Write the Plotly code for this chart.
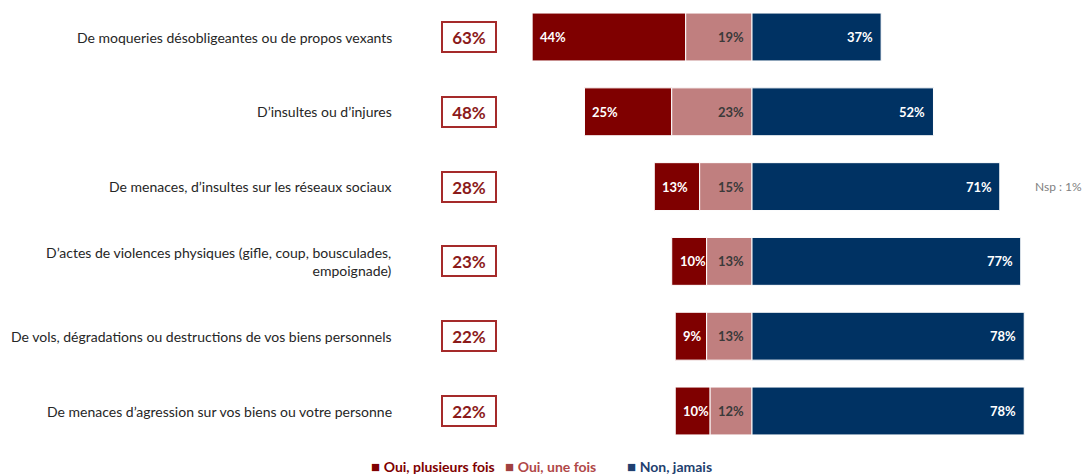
import plotly.graph_objects as go

categories = [
    "De moqueries désobligeantes ou de propos vexants",
    "D’insultes ou d’injures",
    "De menaces, d’insultes sur les réseaux sociaux",
    "D’actes de violences physiques (gifle, coup, bousculades,<br>empoignade)",
    "De vols, dégradations ou destructions de vos biens personnels",
    "De menaces d’agression sur vos biens ou votre personne",
]
oui_plusieurs = [44, 25, 13, 10, 9, 10]
oui_une = [19, 23, 15, 13, 13, 12]
non_jamais = [37, 52, 71, 77, 78, 78]
series_names = ["Oui, plusieurs fois", "Oui, une fois", "Non, jamais"]
nsp_note = "Nsp : 1%"
nsp_row = 2

C_DARK = "#7F0000"
C_LIGHT = "#C07F7F"
C_BLUE = "#003263"
FONT = "Lato, Open Sans, sans-serif"

ypos = list(range(len(categories)))
fig = go.Figure()

bw = 0.64
fig.add_trace(go.Bar(
    y=ypos, x=oui_plusieurs, base=[-(a + b) for a, b in zip(oui_plusieurs, oui_une)],
    orientation="h", width=bw, marker=dict(color=C_DARK, line=dict(color="white", width=1)),
    name=series_names[0], hoverinfo="skip", showlegend=False))
fig.add_trace(go.Bar(
    y=ypos, x=oui_une, base=[-b for b in oui_une],
    orientation="h", width=bw, marker=dict(color=C_LIGHT, line=dict(color="white", width=1)),
    name=series_names[1], hoverinfo="skip", showlegend=False))
fig.add_trace(go.Bar(
    y=ypos, x=non_jamais, base=[0] * len(non_jamais),
    orientation="h", width=bw, marker=dict(color=C_BLUE, line=dict(color="white", width=1)),
    name=series_names[2], hoverinfo="skip", showlegend=False))

ann = []
for i, (a, b, c, cat) in enumerate(zip(oui_plusieurs, oui_une, non_jamais, categories)):
    ann.append(dict(x=-(a + b), y=i, text=f"<b>{a}%</b>", xanchor="left", xshift=6,
                    showarrow=False, font=dict(family=FONT, size=13, color="white")))
    ann.append(dict(x=0, y=i, text=f"<b>{b}%</b>", xanchor="right", xshift=-6,
                    showarrow=False, font=dict(family=FONT, size=13, color="#3a3a3a")))
    ann.append(dict(x=c, y=i, text=f"<b>{c}%</b>", xanchor="right", xshift=-6,
                    showarrow=False, font=dict(family=FONT, size=13, color="white")))
    # category label
    ann.append(dict(x=394 / 1090, xref="paper", y=i, text=cat, xanchor="right", align="right",
                    showarrow=False, font=dict(family=FONT, size=14, color="#262626")))
    # total box
    ann.append(dict(x=469 / 1090, xref="paper", y=i, text=f"<b>{a + b}%</b>", xanchor="center",
                    showarrow=False, width=50, height=26, bordercolor="#A52A2A", borderwidth=2,
                    bgcolor="white", font=dict(family=FONT, size=17, color="#8B1A1A")))

ann.append(dict(x=1058 / 1090, xref="paper", y=nsp_row, text=nsp_note, xanchor="center",
                showarrow=False, font=dict(family=FONT, size=12, color="#808080")))

# legend
leg_y = 1 - 466 / 474
leg_items = [(369, C_DARK, C_DARK, series_names[0]),
             (503, "#A04040", "#B04848", series_names[1]),
             (625, "#1F3F6F", "#1F3F6F", series_names[2])]
for px, sq, tc, nm in leg_items:
    ann.append(dict(x=px / 1090, xref="paper", y=leg_y, yref="paper", yanchor="middle",
                    text=f"<span style='color:{sq};font-size:15px'>■</span> <b><span style='color:{tc}'>{nm}</span></b>",
                    xanchor="left", showarrow=False, font=dict(family=FONT, size=14, color=tc)))

fig.update_layout(
    width=1090, height=474,
    margin=dict(l=0, r=0, t=0, b=0),
    paper_bgcolor="white", plot_bgcolor="white",
    barmode="overlay",
    xaxis=dict(range=[-752 / 3.49, 338 / 3.49], visible=False, fixedrange=True),
    yaxis=dict(range=[(474 - 37) / 74.8, -37 / 74.8], visible=False, fixedrange=True),
    annotations=ann,
    showlegend=False,
)

fig.write_html("out.html", config={"displayModeBar": False},
               post_script="document.body.style.margin='0px';")
